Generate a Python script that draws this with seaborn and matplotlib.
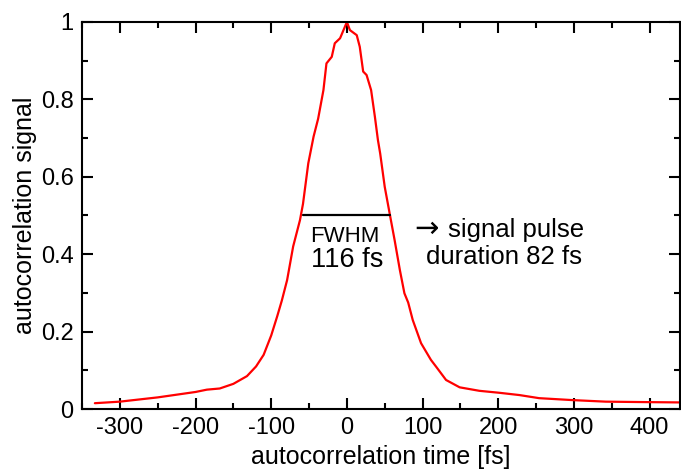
import numpy as np
import pandas as pd
import matplotlib
matplotlib.use('Agg')
import matplotlib.pyplot as plt
import seaborn as sns
from matplotlib.ticker import MultipleLocator, FixedLocator

# ============================================================
# DATA
# ============================================================

time_fs = [-333, -300, -250, -200, -185, -168, -150, -132, -120, -110,
           -100, -92, -86, -79, -71, -62, -58, -51, -44, -38,
           -31, -27, -20, -16, -9, 0, 4, 13, 17, 21.5,
           26, 32, 37, 41, 44, 50, 57, 63, 70, 76,
           81, 87, 98, 111, 118, 131, 149, 175, 201, 228,
           254, 298, 342, 386, 440]
signal = [0.015, 0.019, 0.030, 0.044, 0.050, 0.053, 0.065, 0.085, 0.110, 0.140,
          0.190, 0.240, 0.280, 0.333, 0.420, 0.488, 0.530, 0.635, 0.704, 0.750,
          0.824, 0.893, 0.910, 0.945, 0.958, 1.000, 0.979, 0.966, 0.936, 0.872,
          0.863, 0.824, 0.755, 0.695, 0.660, 0.574, 0.500, 0.437, 0.359, 0.299,
          0.275, 0.230, 0.170, 0.127, 0.109, 0.075, 0.056, 0.047, 0.042, 0.036,
          0.028, 0.023, 0.019, 0.018, 0.017]

fwhm_left, fwhm_right, fwhm_level = -58, 57, 0.5
y_ticks = [0, 0.2, 0.4, 0.6, 0.8, 1.0]
y_labels = ['0', '0.2', '0.4', '0.6', '0.8', '1']

df = pd.DataFrame({'time': time_fs, 'signal': signal})

# ============================================================
# PLOT
# ============================================================

sns.set_theme(style='ticks')
plt.rcParams['font.family'] = ['Liberation Sans', 'DejaVu Sans']
plt.rcParams['axes.unicode_minus'] = False
plt.rcParams['text.color'] = 'black'
plt.rcParams['axes.labelcolor'] = 'black'
plt.rcParams['xtick.color'] = 'black'
plt.rcParams['ytick.color'] = 'black'
plt.rcParams['axes.edgecolor'] = 'black'

fig = plt.figure(figsize=(6.81, 4.73), dpi=100)
ax = fig.add_axes([0.1204, 0.1353, 0.878, 0.8182])

sns.lineplot(data=df, x='time', y='signal', color='#ff0000', linewidth=1.6, ax=ax)

ax.plot([fwhm_left, fwhm_right], [fwhm_level, fwhm_level], color='black', linewidth=1.6)
ax.text(-3, 0.445, 'FWHM', ha='center', va='center', fontsize=16)
ax.text(0, 0.385, '116 fs', ha='center', va='center', fontsize=19.5)
ax.text(89, 0.466, '\u2192', ha='left', va='center', fontsize=21,
        family=['DejaVu Sans'])
ax.text(134, 0.462, 'signal pulse', ha='left', va='center', fontsize=18.5)
ax.text(207, 0.393, 'duration 82 fs', ha='center', va='center', fontsize=18.5)

ax.set_xlim(-350, 440)
ax.set_ylim(0, 1)
ax.xaxis.set_major_locator(MultipleLocator(100))
ax.xaxis.set_minor_locator(MultipleLocator(50))
ax.yaxis.set_major_locator(FixedLocator(y_ticks))
ax.yaxis.set_minor_locator(MultipleLocator(0.1))
ax.set_yticklabels(y_labels)

ax.tick_params(which='both', direction='in', top=True, right=True,
               width=1.5, labelsize=17, pad=6)
ax.tick_params(which='major', length=8)
ax.tick_params(which='minor', length=4)
for s in ax.spines.values():
    s.set_linewidth(1.5)

ax.set_xlabel('autocorrelation time [fs]', fontsize=18, labelpad=4)
ax.set_ylabel('autocorrelation signal', fontsize=18, labelpad=3)

plt.savefig('out.png', dpi=100)
plt.close()
